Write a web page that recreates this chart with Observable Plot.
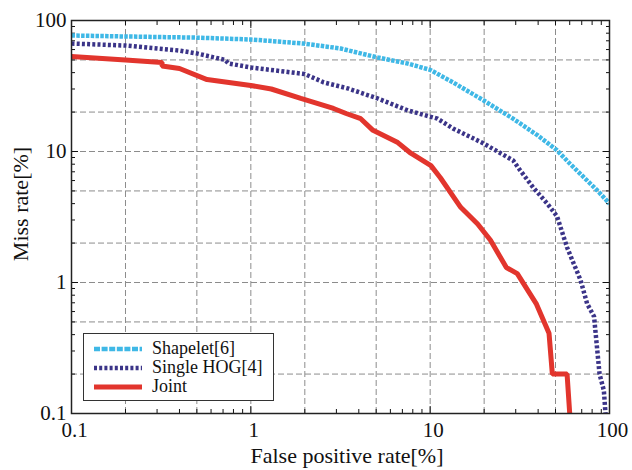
<!DOCTYPE html>
<html>
<head>
<meta charset="utf-8">
<script src="https://cdn.jsdelivr.net/npm/d3@7"></script>
<script src="https://cdn.jsdelivr.net/npm/@observablehq/plot@0.6"></script>
<style>
  body { margin: 0; background: #fff; }
  #wrap { position: relative; width: 632px; height: 470px; font-family: "Liberation Serif", "DejaVu Serif", serif; color: #111; }
  .axlabel { position: absolute; font-size: 22px; white-space: nowrap; }
  #legend { position: absolute; left: 83px; top: 333px; width: 191px; height: 68px; border: 1px solid #333; background: #fff; box-sizing: border-box; }
  .lrow { position: absolute; left: 10px; height: 19px; display: flex; align-items: center; font-size: 18px; }
  .lrow svg { margin-right: 10px; }
</style>
</head>
<body>
<div id="wrap"></div>
<script>
// ---- data ----
const seriesNames = ["Shapelet[6]", "Single HOG[4]", "Joint"];
const seriesColors = ["#3fb8e6", "#3b3488", "#e2352d"];

const shapeletX = [0.1, 0.2, 0.5, 1, 1.97, 3.17, 5.1, 7.5, 10, 13.4, 19.9, 29, 40, 51, 60, 86, 100];
const shapeletY = [76.8, 75.5, 74, 71.6, 66.7, 61.1, 52.2, 46.9, 42, 33.7, 24.5, 17.8, 13.2, 10.2, 8.1, 5.0, 4.0];

const hogX = [0.1, 0.2, 0.4, 0.5, 0.72, 0.75, 1, 1.7, 2.0, 2.55, 3.47, 5.1, 7.5, 11, 13.4, 19.9, 29, 31.7, 37.6, 45, 51, 58, 69, 75, 82, 88, 93, 95];
const hogY = [66.7, 64.4, 59, 56, 50, 47, 43.8, 40.1, 39, 33.7, 30.3, 25.4, 20.6, 17.8, 15.0, 11.5, 8.55, 7.2, 5.3, 4.0, 3.2, 1.85, 1.04, 0.69, 0.55, 0.2, 0.15, 0.1];

const jointX = [0.1, 0.2, 0.32, 0.32, 0.4, 0.57, 1.0, 1.3, 1.9, 2.89, 3.4, 4.1, 4.8, 6.6, 7.8, 10.1, 11.4, 14.8, 18.4, 21.7, 26.6, 30.6, 39, 46, 48, 58, 60];
const jointY = [53, 50, 47.8, 45, 43, 35.4, 31.9, 30, 25.4, 21.3, 19.5, 17.8, 14.5, 11.7, 9.7, 7.8, 6.3, 3.75, 2.8, 2.1, 1.3, 1.17, 0.69, 0.41, 0.2, 0.2, 0.1];

const majorTicks = [0.1, 1, 10, 100];
const gridTicks = [0.2, 0.5, 1, 2, 5, 10, 20, 50];
const minorTicks = [0.2,0.3,0.4,0.5,0.6,0.7,0.8,0.9,2,3,4,5,6,7,8,9,20,30,40,50,60,70,80,90];

const xLabel = "False positive rate[%]";
const yLabel = "Miss rate[%]";

// ---- build rows ----
const toRows = (xs, ys) => xs.map((x, i) => ({x, y: ys[i]}));
const shapelet = toRows(shapeletX, shapeletY);
const hog = toRows(hogX, hogY);
const joint = toRows(jointX, jointY);

const gridStyle = {stroke: "#8c8c8c", strokeOpacity: 1, strokeWidth: 1, strokeDasharray: "6,3"};
const noText = () => "";

const chart = Plot.plot({
  width: 632,
  height: 470,
  marginLeft: 71,
  marginRight: 23,
  marginTop: 20,
  marginBottom: 57,
  style: {fontFamily: "'Liberation Serif', serif", fontSize: "21px", color: "#111", background: "#fff"},
  x: {type: "log", domain: [0.1, 100]},
  y: {type: "log", domain: [0.1, 100]},
  marks: [
    Plot.gridX(gridTicks, gridStyle),
    Plot.gridY(gridTicks, gridStyle),
    // labels
    Plot.axisX(majorTicks, {anchor: "bottom", tickSize: 0, tickPadding: 9, dx: 3, tickFormat: d => String(d), label: null}),
    Plot.axisY(majorTicks, {anchor: "left", tickSize: 0, tickPadding: 5, tickFormat: d => String(d), label: null}),
    // inward ticks on all sides
    Plot.axisX(majorTicks, {anchor: "bottom", tickSize: -7, tickFormat: noText, label: null}),
    Plot.axisX(majorTicks, {anchor: "top", tickSize: -7, tickFormat: noText, label: null}),
    Plot.axisX(minorTicks, {anchor: "bottom", tickSize: -4, tickFormat: noText, label: null}),
    Plot.axisX(minorTicks, {anchor: "top", tickSize: -4, tickFormat: noText, label: null}),
    Plot.axisY(majorTicks, {anchor: "left", tickSize: -7, tickFormat: noText, label: null}),
    Plot.axisY(majorTicks, {anchor: "right", tickSize: -7, tickFormat: noText, label: null}),
    Plot.axisY(minorTicks, {anchor: "left", tickSize: -4, tickFormat: noText, label: null}),
    Plot.axisY(minorTicks, {anchor: "right", tickSize: -4, tickFormat: noText, label: null}),
    Plot.line(shapelet, {x: "x", y: "y", stroke: seriesColors[0], strokeWidth: 4.5, strokeDasharray: "3.5,1.3", strokeLinecap: "butt", clip: true}),
    Plot.line(hog, {x: "x", y: "y", stroke: seriesColors[1], strokeWidth: 4.5, strokeDasharray: "3,2.2", strokeLinecap: "butt", clip: true}),
    Plot.line(joint, {x: "x", y: "y", stroke: seriesColors[2], strokeWidth: 5, strokeLinejoin: "miter", strokeLinecap: "butt", clip: true}),
    Plot.frame({stroke: "#222", strokeWidth: 1.5})
  ]
});

const wrap = document.getElementById("wrap");
wrap.appendChild(chart);

// axis titles
const xl = document.createElement("div");
xl.className = "axlabel";
xl.textContent = xLabel;
xl.style.left = "347px"; xl.style.top = "443px"; xl.style.transform = "translateX(-50%)";
wrap.appendChild(xl);

const yl = document.createElement("div");
yl.className = "axlabel";
yl.textContent = yLabel;
yl.style.left = "21px"; yl.style.top = "204px";
yl.style.transform = "translate(-50%, -50%) rotate(-90deg)";
wrap.appendChild(yl);

// legend
const legend = document.createElement("div");
legend.id = "legend";
const dashes = ["6,1.6", "3,2.2", null];
const widths = [4.5, 4.5, 5];
seriesNames.forEach((name, i) => {
  const row = document.createElement("div");
  row.className = "lrow";
  row.style.top = (5 + i * 19) + "px";
  const svg = d3.create("svg").attr("width", 48).attr("height", 10);
  const ln = svg.append("line").attr("x1", 0).attr("x2", 48).attr("y1", 5).attr("y2", 5)
    .attr("stroke", seriesColors[i]).attr("stroke-width", widths[i]);
  if (dashes[i]) ln.attr("stroke-dasharray", dashes[i]);
  row.appendChild(svg.node());
  const t = document.createElement("span");
  t.textContent = name;
  row.appendChild(t);
  legend.appendChild(row);
});
wrap.appendChild(legend);
</script>
</body>
</html>
